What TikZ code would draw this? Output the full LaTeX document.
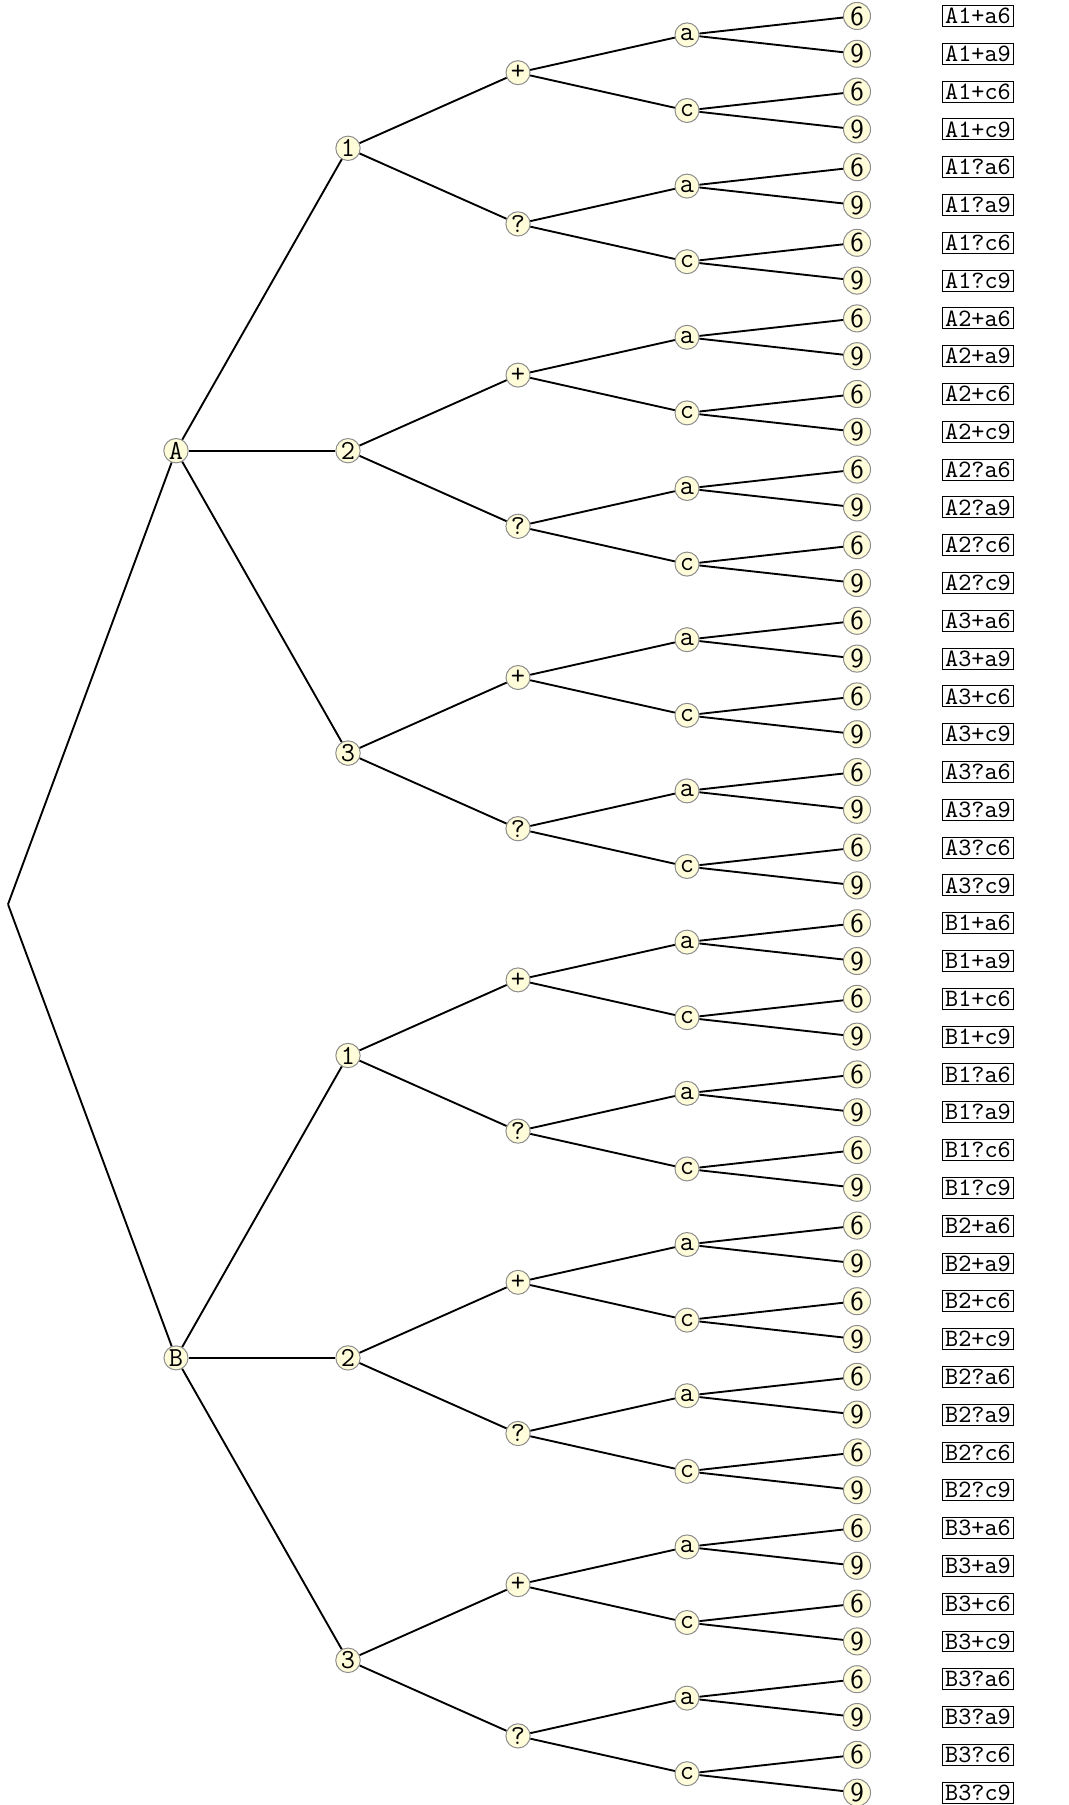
\documentclass[tikz,border=0pt]{standalone}
\usepackage{tikz}
\usetikzlibrary{positioning}
\definecolor{nodecream}{RGB}{255,252,218}

\begin{document}
\begin{tikzpicture}[x=0.4pt,y=-0.4pt,
knot/.style={circle,draw=black!45,fill=nodecream,inner sep=0.3pt,minimum size=9.6pt,font=\ttfamily\fontsize{11}{13}\selectfont},
leaf/.style={circle,draw=black!45,fill=nodecream,inner sep=0.5pt,minimum size=10.8pt,font=\sffamily\fontsize{11}{13}\selectfont},
tag/.style={draw,inner sep=1pt,font=\ttfamily},
edge/.style={line width=0.75pt}]
\useasboundingbox (0,0) rectangle (1068,1805);
\coordinate (root) at (8,904.3);
\foreach \L [count=\pa from 0] in {A,B}{
 \node[knot] (\L) at (176,{16+37.8*(24*\pa+11.5)}) {\L};
 \draw[edge] (root) -- (\L);
 \foreach \N [count=\pb from 0] in {1,2,3}{
  \node[knot] (\L\N) at (348,{16+37.8*(24*\pa+8*\pb+3.5)}) {\N};
  \draw[edge] (\L) -- (\L\N);
  \foreach \S/\s [count=\pc from 0] in {p/+,q/?}{
   \node[knot] (\L\N\S) at (518,{16+37.8*(24*\pa+8*\pb+4*\pc+1.5)}) {\s};
   \draw[edge] (\L\N) -- (\L\N\S);
   \foreach \V [count=\pd from 0] in {a,c}{
    \node[knot] (\L\N\S\V) at (687,{16+37.8*(24*\pa+8*\pb+4*\pc+2*\pd+0.5)}) {\V};
    \draw[edge] (\L\N\S) -- (\L\N\S\V);
    \foreach \D [count=\pe from 0] in {6,9}{
     \node[leaf] (\L\N\S\V\D) at (857,{16+37.8*(24*\pa+8*\pb+4*\pc+2*\pd+\pe)}) {\D};
     \node[tag] (\L\N\S\V\D t) at (978,{16+37.8*(24*\pa+8*\pb+4*\pc+2*\pd+\pe)}) {\L\N\s\V\D};
     \draw[edge] (\L\N\S\V) -- (\L\N\S\V\D);
    }
   }
  }
 }
}
\end{tikzpicture}
\end{document}
